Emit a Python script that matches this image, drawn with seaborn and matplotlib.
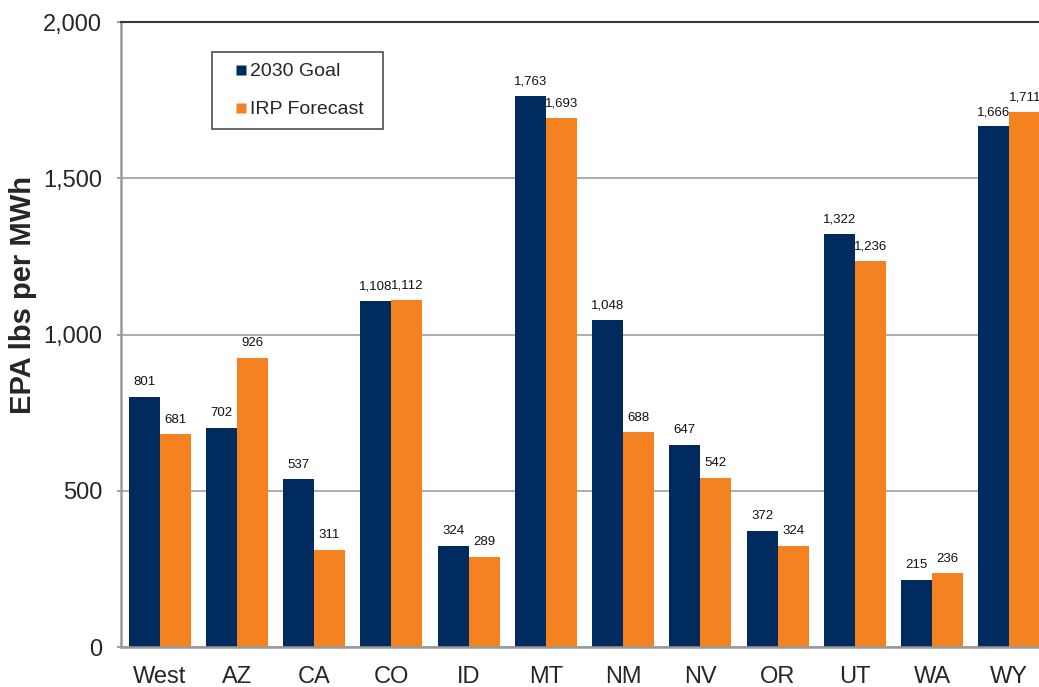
import matplotlib
matplotlib.use("Agg")
import matplotlib.pyplot as plt
from matplotlib.lines import Line2D
import seaborn as sns
import pandas as pd

regions = ["West", "AZ", "CA", "CO", "ID", "MT", "NM", "NV", "OR", "UT", "WA", "WY"]
goal_2030 = [801, 702, 537, 1108, 324, 1763, 1048, 647, 372, 1322, 215, 1666]
irp_forecast = [681, 926, 311, 1112, 289, 1693, 688, 542, 324, 1236, 236, 1711]
series_names = ["2030 Goal", "IRP Forecast"]
colors = ["#002B5E", "#F58220"]

df = pd.DataFrame({
    "region": regions * 2,
    "value": goal_2030 + irp_forecast,
    "series": [series_names[0]] * len(regions) + [series_names[1]] * len(regions),
})

sns.set_style("white")
plt.rcParams["font.family"] = ["Liberation Sans", "DejaVu Sans"]

fig = plt.figure(figsize=(10.39, 6.87), dpi=100)
ax = fig.add_axes([121 / 1039, 40 / 687, (1048 - 121) / 1039, 625 / 687])

sns.barplot(data=df, x="region", y="value", hue="series", palette=colors,
            order=regions, hue_order=series_names, width=0.8, saturation=1,
            edgecolor="none", linewidth=0, ax=ax, legend=False)

ax.set_ylim(0, 2000)
ax.set_xlim(-0.5, len(regions) - 0.5)
ax.set_yticks([0, 500, 1000, 1500, 2000])
ax.set_yticklabels([f"{v:,}" for v in [0, 500, 1000, 1500, 2000]])
ax.yaxis.grid(True, color="#A6A6A6", linewidth=1.3)
ax.set_axisbelow(True)
ax.set_xlabel("")
ax.set_ylabel("EPA lbs per MWh", fontsize=21, fontweight="bold")
ax.yaxis.set_label_coords(-0.0906, 0.563)

ax.spines["right"].set_visible(False)
ax.spines["top"].set_color("#3A3A3A")
ax.spines["top"].set_linewidth(1.5)
ax.spines["left"].set_color("#999999")
ax.spines["left"].set_linewidth(1.8)
ax.spines["bottom"].set_color("#999999")
ax.spines["bottom"].set_linewidth(1.8)

ax.tick_params(axis="y", labelsize=17, length=3, width=1.3, color="#999999", pad=10.5, left=True)
ax.tick_params(axis="x", labelsize=17, length=0, pad=14)

for cont in ax.containers:
    labels = [f"{int(round(b.get_height())):,}" for b in cont]
    ax.bar_label(cont, labels=labels, padding=6, fontsize=9.5, color="#111111")

handles = [Line2D([], [], linestyle="none", marker="s", markersize=7.5,
                  markerfacecolor=c, markeredgecolor="none") for c in colors]
leg = ax.legend(handles, series_names, loc="upper left",
                bbox_to_anchor=(0.0982, 0.952, 0.1845, 0.0), mode="expand",
                fontsize=14, frameon=True, fancybox=False, edgecolor="#222222",
                handlelength=1.89, handletextpad=-0.5,
                labelspacing=1.05, borderpad=0.55, borderaxespad=0)
leg.get_frame().set_linewidth(1.2)

fig.savefig("out.png", dpi=100)
